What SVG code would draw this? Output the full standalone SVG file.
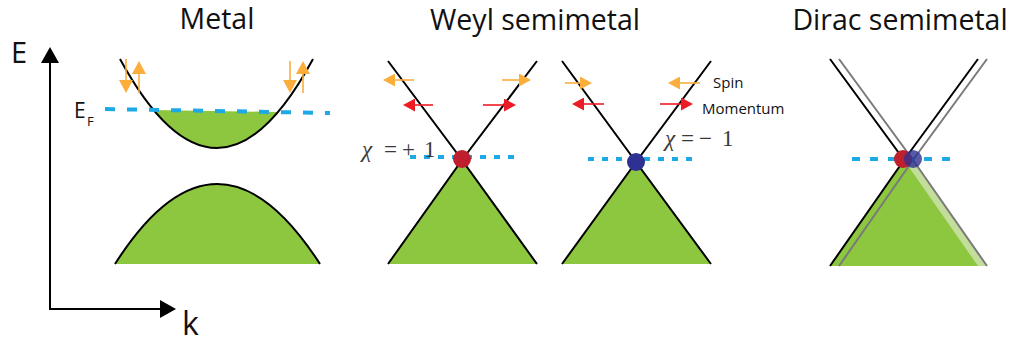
<svg xmlns="http://www.w3.org/2000/svg" width="1016" height="342" viewBox="0 0 1016 342">
<style>
.title{font-family:"Open Sans","Liberation Sans",sans-serif;font-size:28.5px;fill:#111;text-anchor:middle}
.lab{font-family:"Open Sans","Liberation Sans",sans-serif;fill:#111}
.chi{font-family:"Liberation Serif","DejaVu Serif",serif;font-size:23px;fill:#3A3A3A}
.band{fill:none;stroke:#000;stroke-width:2}
.fill{fill:#8DC63F}
.ef{fill:none;stroke:#1DA9E6;stroke-width:4}
.or{stroke:#FBAE3C;stroke-width:1.6;fill:none}
.rd{stroke:#ED1C24;stroke-width:1.6;fill:none}
.gray{fill:none;stroke:#7A7A7A;stroke-width:2}
</style>
<defs>
<marker id="hAx" markerUnits="userSpaceOnUse" markerWidth="18" markerHeight="18" refX="0" refY="9" orient="auto"><path d="M0,0 L16,9 L0,18 z" fill="#000"/></marker>
<marker id="hOrB" markerUnits="userSpaceOnUse" markerWidth="14" markerHeight="14" refX="0" refY="7" orient="auto"><path d="M0,0 L13,7 L0,14 z" fill="#FBAE3C"/></marker>
<marker id="hOr" markerUnits="userSpaceOnUse" markerWidth="13" markerHeight="13" refX="0" refY="6.5" orient="auto"><path d="M0,0 L12,6.5 L0,13 z" fill="#FBAE3C"/></marker>
<marker id="hRd" markerUnits="userSpaceOnUse" markerWidth="13" markerHeight="13" refX="0" refY="6.5" orient="auto"><path d="M0,0 L12,6.5 L0,13 z" fill="#ED1C24"/></marker>
</defs>

<g id="axes">
<line x1="50" y1="309" x2="50" y2="63" stroke="#000" stroke-width="2" marker-end="url(#hAx)"/>
<line x1="49" y1="309" x2="160" y2="309" stroke="#000" stroke-width="2" marker-end="url(#hAx)"/>
<text class="lab" x="11" y="63" font-size="29">E</text>
<text class="lab" x="182" y="335" font-size="32">k</text>
<text class="lab" x="74" y="118" font-size="21">E</text>
<text class="lab" x="87" y="126" font-size="13">F</text>
</g>

<g id="metal">
<text class="title" x="217" y="29">Metal</text>
<path class="fill" d="M115,264 Q217,104 320,264 Z"/>
<path class="band" d="M115,264 Q217,104 320,264"/>
<path class="fill" d="M153.6,110 L278.7,112 Q216.15,185 153.6,110 Z"/>
<path class="band" d="M120,59 Q217,237 313,59"/>
<line class="ef" x1="105" y1="109" x2="330" y2="113" stroke-dasharray="10 12"/>
</g>

<g id="weyl-plus">
<text class="title" x="535" y="30">Weyl semimetal</text>
<path class="fill" d="M388,264 L462,160 L537,264 Z"/>
<path class="band" d="M388,61 L462,160 L388,264"/>
<path class="band" d="M537,61 L462,160 L537,264"/>
<line class="ef" x1="410" y1="157" x2="517" y2="157" stroke-dasharray="6 8"/>
<circle cx="462" cy="159" r="9" fill="#BE1E2D"/>
<text class="chi" x="362" y="157" font-style="italic">χ</text>
<text class="chi" x="384" y="157">=</text>
<text class="chi" x="402" y="157">+</text>
<text class="chi" x="424" y="157">1</text>
</g>

<g id="weyl-minus">
<path class="fill" d="M562,264 L636,162 L711,264 Z"/>
<path class="band" d="M562,61 L636,162 L562,264"/>
<path class="band" d="M711,61 L636,162 L711,264"/>
<line class="ef" x1="588" y1="159" x2="695" y2="159" stroke-dasharray="6 8"/>
<circle cx="636" cy="162" r="9" fill="#2E3192"/>
<text class="chi" x="665" y="146" font-style="italic">χ</text>
<text class="chi" x="681" y="146">=</text>
<text class="chi" x="699" y="146">−</text>
<text class="chi" x="722" y="146">1</text>
</g>

<g id="legend">
<text class="lab" x="713" y="88" font-size="15">Spin</text>
<text class="lab" x="702" y="114" font-size="15">Momentum</text>
</g>

<g id="dirac">
<text class="title" x="900" y="30">Dirac semimetal</text>
<path d="M839,266 L913,160 L987,266 Z" fill="#C3DE9B"/>
<path class="fill" d="M830,266 L904,160 L978,266 Z"/>
<path class="band" d="M830,59 L904,160 L830,266"/>
<path class="band" d="M978,59 L904,160"/>
<path class="gray" d="M839,59 L913,160 L987,266"/>
<path class="gray" d="M987,59 L913,160 L839,266"/>
<line class="ef" x1="852" y1="159" x2="958" y2="159" stroke-dasharray="8 10"/>
<circle cx="903" cy="159" r="9" fill="#BE1E2D"/>
<circle cx="913" cy="159" r="9" fill="#2E3192" fill-opacity="0.8"/>
</g>

<g id="connectors">
<line class="or" x1="126" y1="59" x2="126" y2="80" marker-end="url(#hOrB)"/>
<line class="or" x1="139" y1="93" x2="139" y2="74" marker-end="url(#hOrB)"/>
<line class="or" x1="290" y1="61" x2="290" y2="80" marker-end="url(#hOrB)"/>
<line class="or" x1="303" y1="93" x2="303" y2="74" marker-end="url(#hOrB)"/>
<line class="or" x1="414" y1="80" x2="395" y2="80" marker-end="url(#hOr)"/>
<line class="or" x1="502" y1="80" x2="519" y2="80" marker-end="url(#hOr)"/>
<line class="rd" x1="433" y1="105" x2="415" y2="105" marker-end="url(#hRd)"/>
<line class="rd" x1="483" y1="105" x2="504" y2="105" marker-end="url(#hRd)"/>
<line class="or" x1="565" y1="83" x2="580" y2="83" marker-end="url(#hOr)"/>
<line class="or" x1="700" y1="83" x2="680" y2="83" marker-end="url(#hOr)"/>
<line class="rd" x1="604" y1="104" x2="584" y2="104" marker-end="url(#hRd)"/>
<line class="rd" x1="660" y1="104" x2="681" y2="104" marker-end="url(#hRd)"/>
</g>
</svg>
